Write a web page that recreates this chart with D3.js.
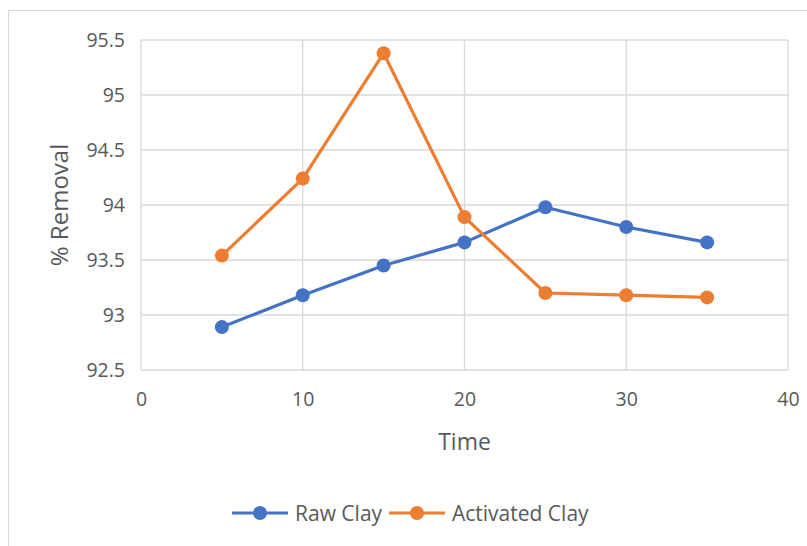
<!DOCTYPE html>
<html><head><meta charset="utf-8">
<script src="https://cdn.jsdelivr.net/npm/d3@7"></script>
<style>body{margin:0;background:#fff}svg{display:block}</style>
</head><body>
<script>
const times = [5, 10, 15, 20, 25, 30, 35];
const rawClay = [92.89, 93.18, 93.45, 93.66, 93.98, 93.80, 93.66];
const activatedClay = [93.54, 94.24, 95.38, 93.89, 93.20, 93.18, 93.16];
const xTicks = [0, 10, 20, 30, 40];
const yTicks = [92.5, 93, 93.5, 94, 94.5, 95, 95.5];
const seriesNames = ["Raw Clay", "Activated Clay"];
const colors = ["#4472c4", "#ed7d31"];

const W = 807, H = 546;
const font = "'Open Sans', 'Liberation Sans', sans-serif";
const svg = d3.select("body").append("svg").attr("width", W).attr("height", H);
svg.append("rect").attr("x", 8.5).attr("y", 10.5).attr("width", 820).attr("height", 560)
  .attr("fill", "#fff").attr("stroke", "#d9d9d9");

const m = {left: 141, right: 788, top: 40, bottom: 370};
const x = d3.scaleLinear().domain([0, 40]).range([m.left, m.right]);
const y = d3.scaleLinear().domain([92.5, 95.5]).range([m.bottom, m.top]);

const g = svg.append("g");
g.append("g").selectAll("line").data(yTicks).join("line")
  .attr("x1", m.left).attr("x2", m.right).attr("y1", d => y(d)).attr("y2", d => y(d))
  .attr("stroke", "#d9d9d9").attr("stroke-width", 1.3);
g.append("g").selectAll("line").data(xTicks).join("line")
  .attr("x1", d => x(d)).attr("x2", d => x(d)).attr("y1", m.top).attr("y2", m.bottom)
  .attr("stroke", "#d9d9d9").attr("stroke-width", 1.3);

const yAxis = svg.append("g").attr("transform", `translate(${m.left},0)`)
  .call(d3.axisLeft(y).tickValues(yTicks).tickSize(0).tickPadding(16).tickFormat(d => String(d)));
yAxis.select(".domain").remove();
yAxis.selectAll("text").attr("font-family", font).attr("font-size", 19.5).attr("fill", "#595959");

const xAxis = svg.append("g").attr("transform", `translate(0,${m.bottom})`)
  .call(d3.axisBottom(x).tickValues(xTicks).tickSize(0).tickPadding(22));
xAxis.select(".domain").remove();
xAxis.selectAll("text").attr("font-family", font).attr("font-size", 19.5).attr("fill", "#595959");

svg.append("text").attr("x", (m.left + m.right) / 2).attr("y", 450).attr("text-anchor", "middle")
  .attr("font-family", font).attr("font-size", 23).attr("fill", "#595959").text("Time");
svg.append("text").attr("transform", `translate(68,205) rotate(-90)`)
  .attr("text-anchor", "middle").attr("font-family", font).attr("font-size", 24).attr("fill", "#595959")
  .text("% Removal");

const seriesData = [rawClay, activatedClay];
const line = d3.line().x((d, i) => x(times[i])).y(d => y(d));
seriesData.forEach((vals, k) => {
  svg.append("path").datum(vals).attr("d", line).attr("fill", "none")
    .attr("stroke", colors[k]).attr("stroke-width", 3.2).attr("stroke-linejoin", "round");
});
seriesData.forEach((vals, k) => {
  svg.append("g").selectAll("circle").data(vals).join("circle")
    .attr("cx", (d, i) => x(times[i])).attr("cy", d => y(d)).attr("r", 7)
    .attr("fill", colors[k]);
});

// legend
const legX = [232, 389];
const legY = 513;
seriesNames.forEach((name, k) => {
  const lg = svg.append("g").attr("transform", `translate(${legX[k]},${legY})`);
  lg.append("line").attr("x1", 0).attr("x2", 56).attr("stroke", colors[k]).attr("stroke-width", 3.2);
  lg.append("circle").attr("cx", 28).attr("r", 7).attr("fill", colors[k]);
  lg.append("text").attr("x", 63).attr("y", 7.5).attr("font-family", font).attr("font-size", 21)
    .attr("fill", "#595959").text(name);
});
</script>
</body></html>
